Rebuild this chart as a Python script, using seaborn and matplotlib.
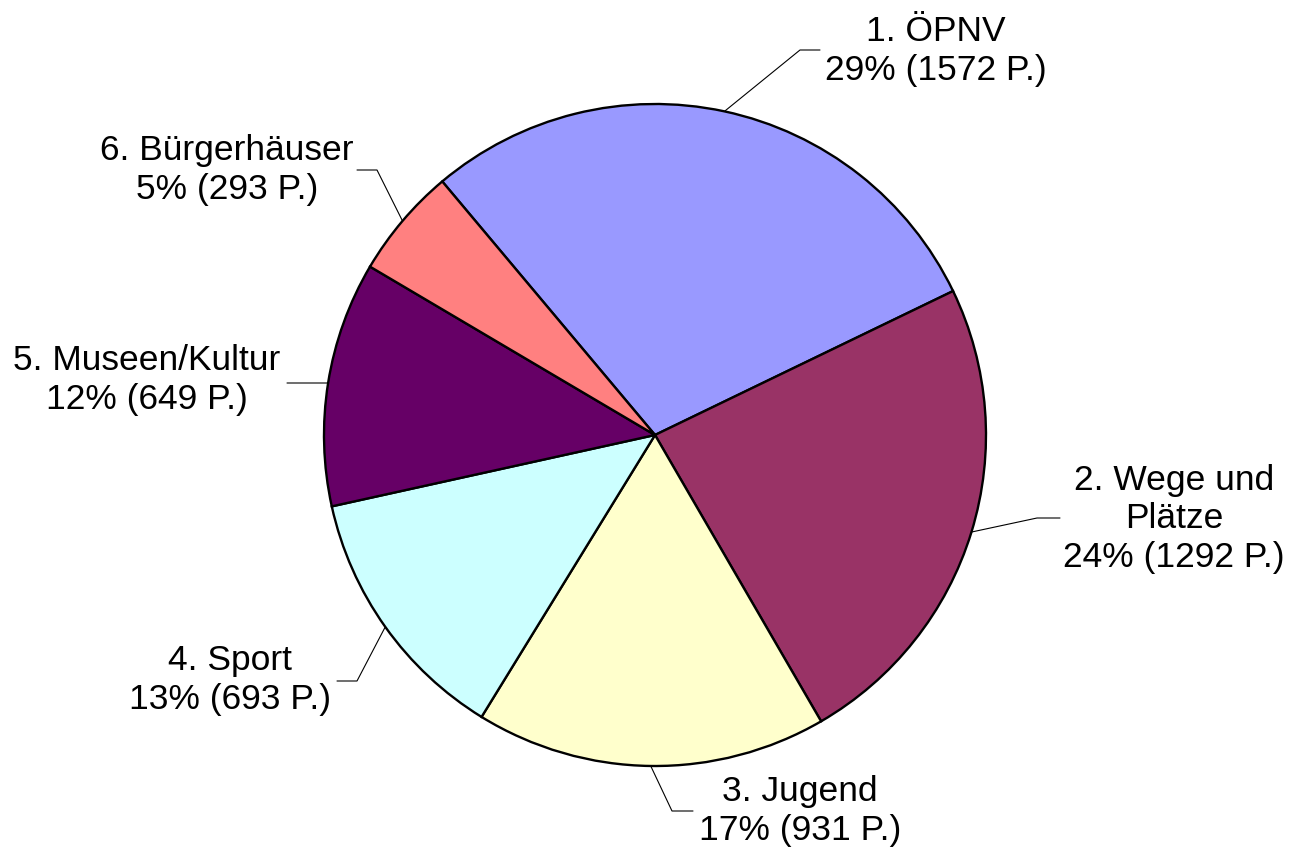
import numpy as np
import matplotlib
matplotlib.use("Agg")
import matplotlib.pyplot as plt
import seaborn as sns

# data
categories = ["1. ÖPNV", "2. Wege und\nPlätze", "3. Jugend", "4. Sport",
              "5. Museen/Kultur", "6. Bürgerhäuser"]
points = [1572, 1292, 931, 693, 649, 293]
colors = ["#9999FF", "#993366", "#FFFFCC", "#CCFFFF", "#660066", "#FF8080"]

sns.set_theme(style="white")
plt.rcParams['font.family'] = ['Liberation Sans', 'DejaVu Sans']

W, H = 1291, 852
fig = plt.figure(figsize=(W / 100, H / 100), dpi=100)
ax = fig.add_axes([0, 0, 1, 1])

cx, cy, r = 655, H - 435, 331
wedges, _ = ax.pie(points, colors=colors, startangle=130, counterclock=False,
                   center=(cx, cy), radius=r, frame=True,
                   wedgeprops=dict(edgecolor="black", linewidth=1.7))
ax.set_xlim(0, W)
ax.set_ylim(0, H)
ax.axis("off")

# label layout (pixel coords from top): text center, elbow, horizontal end
label_pos = [(936, 51), (1174, 519), (800, 811), (230, 680), (147, 380), (227, 170)]
elbows = [(800, 50), (1037, 518), (672, 811), (357, 681), (327, 383), (377, 170)]
line_ends = [(820, 50), (1060, 518), (693, 811), (337, 681), (287, 383), (357, 170)]

total = sum(points)
for w, cat, val, (tx, ty), (ex, ey), (hx, hy) in zip(wedges, categories, points,
                                                      label_pos, elbows, line_ends):
    mid = np.deg2rad((w.theta1 + w.theta2) / 2)
    px, py = cx + r * np.cos(mid), cy + r * np.sin(mid)
    ax.plot([px, ex, hx], [py, H - ey, H - hy], color="black", lw=0.8, zorder=3)
    pct = round(100 * val / total)
    ax.text(tx, H - ty, f"{cat}\n{pct}% ({val} P.)", ha="center", va="center",
            fontsize=25.5, color="black", linespacing=1.22)

fig.savefig("out.png", dpi=100, facecolor="white")
